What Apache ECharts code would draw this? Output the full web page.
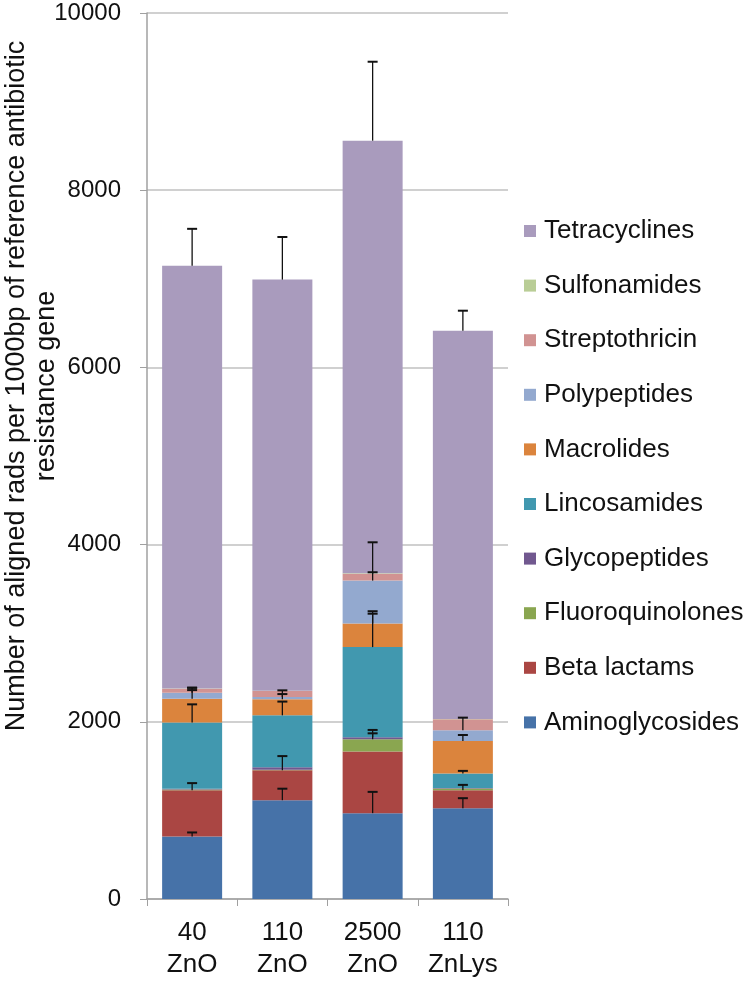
<!DOCTYPE html>
<html>
<head>
<meta charset="utf-8">
<script src="https://cdn.jsdelivr.net/npm/echarts@6/dist/echarts.min.js"></script>
<style>html,body{margin:0;padding:0;background:#fff}#c{width:748px;height:981px}</style>
</head>
<body>
<div id="c"></div>
<script>
const categories = ['40\nZnO', '110\nZnO', '2500\nZnO', '110\nZnLys'];
const seriesNames = ['Aminoglycosides','Beta lactams','Fluoroquinolones','Glycopeptides','Lincosamides','Macrolides','Polypeptides','Streptothricin','Sulfonamides','Tetracyclines'];
const colors = ['#4672A8','#AA4643','#8AA650','#71588F','#4198AF','#DB843D','#93A9CF','#D19392','#B9CD96','#A99BBD'];

const aminoglycosides  = [706, 1115, 969, 1025];
const betaLactams      = [522, 338, 695, 203];
const fluoroquinolones = [8, 5, 139, 20];
const glycopeptides    = [8, 30, 22, 6];
const lincosamides     = [747, 585, 1018, 162];
const macrolides       = [270, 181, 267, 368];
const polypeptides     = [68, 25, 484, 120];
const streptothricin   = [45, 68, 76, 124];
const sulfonamides     = [3, 3, 8, 3];
const tetracyclines    = [4770, 4641, 4881, 4384];

const errAmino  = [45, 130, 240, 113];
const errBeta   = [80, 160, 0, 60];
const errFluoro = [0, 0, 67, 0];
const errGlyco  = [0, 0, 83, 0];
const errLinco  = [206, 155, 405, 30];
const errMacro  = [97, 59, 110, 67];
const errPoly   = [56, 76, 432, 143];
const errStrep  = [10, 0, 18, 0];
const errSulfo  = [0, 0, 0, 0];
const errTetra  = [417, 481, 891, 225];

const yTicks = [0, 2000, 4000, 6000, 8000, 10000];

const values = [aminoglycosides, betaLactams, fluoroquinolones, glycopeptides, lincosamides, macrolides, polypeptides, streptothricin, sulfonamides, tetracyclines];
const errors = [errAmino, errBeta, errFluoro, errGlyco, errLinco, errMacro, errPoly, errStrep, errSulfo, errTetra];

const series = values.map((v, i) => ({
  name: seriesNames[i], type: 'bar', stack: 'total', barWidth: 60,
  data: v, itemStyle: { color: colors[i] }, emphasis: { disabled: true }
}));

const errData = [];
const cum = categories.map(() => 0);
values.forEach((v, i) => {
  v.forEach((val, c) => {
    cum[c] += val;
    if (errors[i][c] > 0) errData.push([c, cum[c], cum[c] + errors[i][c]]);
  });
});

series.push({
  type: 'custom', name: 'err', z: 10, silent: true,
  data: errData, encode: { x: 0, y: [1, 2] },
  renderItem: function (params, api) {
    const x = api.value(0);
    const p0 = api.coord([x, api.value(1)]);
    const p1 = api.coord([x, api.value(2)]);
    return { type: 'group', children: [
      { type: 'line', shape: { x1: p0[0], y1: p0[1], x2: p1[0], y2: p1[1] }, style: { stroke: '#111', lineWidth: 1.3 } },
      { type: 'line', shape: { x1: p1[0] - 5, y1: p1[1], x2: p1[0] + 5, y2: p1[1] }, style: { stroke: '#111', lineWidth: 2 } }
    ]};
  }
});

const chart = echarts.init(document.getElementById('c'), null, { renderer: 'canvas' });
chart.setOption({
  animation: false,
  backgroundColor: '#fff',
  grid: { left: 147, right: 240, top: 13, bottom: 81, containLabel: false },
  legend: {
    orient: 'vertical', left: 519, top: 213,
    data: seriesNames.slice().reverse(),
    icon: 'rect', itemWidth: 12, itemHeight: 12, itemGap: 28.6,
    textStyle: { fontFamily: 'Liberation Sans', fontSize: 26, color: '#111', lineHeight: 26, padding: [0, 0, 0, 3] }
  },
  xAxis: {
    type: 'category', data: categories,
    axisLine: { lineStyle: { color: '#a0a0a0', width: 1.5 } },
    axisTick: { show: true, length: 7, lineStyle: { color: '#a0a0a0' } },
    axisLabel: { interval: 0, hideOverlap: false, fontFamily: 'Liberation Sans', fontSize: 26, color: '#111', lineHeight: 32, margin: 18 }
  },
  yAxis: {
    type: 'value', min: yTicks[0], max: yTicks[yTicks.length - 1], interval: 2000,
    axisLine: { show: true, lineStyle: { color: '#a0a0a0', width: 1.5 } },
    axisTick: { show: true, length: 7, lineStyle: { color: '#a0a0a0' } },
    axisLabel: { fontFamily: 'Liberation Sans', fontSize: 24, color: '#111', margin: 26, formatter: v => String(v) },
    splitLine: { lineStyle: { color: '#c0c0c0', width: 1.5 } }
  },
  graphic: [
    { type: 'text', x: 17, y: 386, rotation: Math.PI / 2,
      style: { text: 'Number of aligned rads per 1000bp of reference antibiotic', font: '27px "Liberation Sans"', fill: '#111', textAlign: 'center', textVerticalAlign: 'middle' } },
    { type: 'text', x: 47, y: 386, rotation: Math.PI / 2,
      style: { text: 'resistance gene', font: '27px "Liberation Sans"', fill: '#111', textAlign: 'center', textVerticalAlign: 'middle' } }
  ],
  series: series
});
</script>
</body>
</html>
